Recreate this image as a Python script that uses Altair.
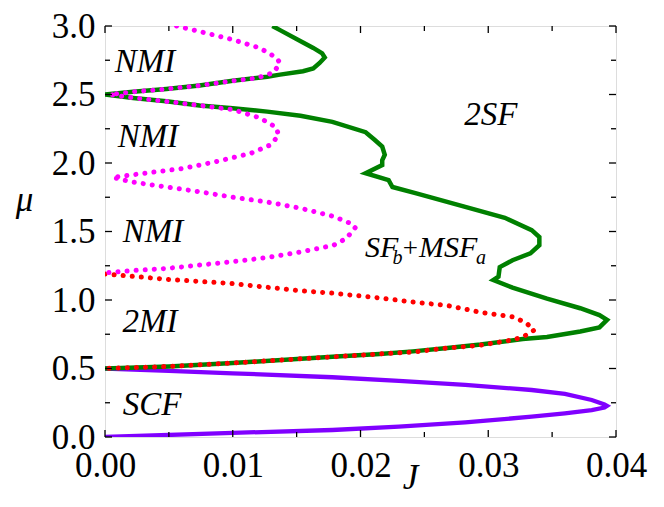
import altair as alt
import pandas as pd

# ---------------- data ----------------
purple_J = [0, 0.005, 0.01, 0.0178, 0.0230, 0.0282, 0.0334, 0.0360, 0.0381, 0.0391, 0.0393,
            0.0391, 0.0381, 0.0360, 0.0334, 0.0282, 0.0230, 0.0178, 0.01, 0.005, 0]
purple_mu = [0, 0.015, 0.03, 0.051, 0.075, 0.107, 0.148, 0.173, 0.197, 0.215, 0.227,
             0.238, 0.27, 0.314, 0.343, 0.38, 0.409, 0.436, 0.465, 0.483, 0.5]

red_J = [0, 0.005, 0.01, 0.015, 0.0178, 0.0215, 0.0241, 0.0268, 0.0294, 0.032, 0.033,
         0.0336, 0.0327, 0.032, 0.0294, 0.0268, 0.0241, 0.0215, 0.0178, 0.01, 0.005, 0]
red_mu = [1.19, 1.15, 1.12, 1.07, 1.05, 1.015, 0.985, 0.96, 0.91, 0.876, 0.83,
          0.78, 0.73, 0.71, 0.67, 0.65, 0.62, 0.606, 0.585, 0.54, 0.515, 0.5]

green_J = [0.0131, 0.0137, 0.0155, 0.0163, 0.0170, 0.0172, 0.0168, 0.0163, 0.0155, 0.0137,
           0.0127, 0.010, 0.0074, 0.0048, 0.0022, 0, 0.0022, 0.0048, 0.0074, 0.010,
           0.0127, 0.0153, 0.0178, 0.0204, 0.0211, 0.0217, 0.0219, 0.0217, 0.0217,
           0.0204, 0.0222, 0.0225, 0.0243, 0.0282, 0.0313, 0.0334, 0.0340, 0.0340, 0.0333,
           0.0319, 0.0309, 0.0308, 0.0304, 0.0319, 0.0346, 0.0372, 0.0387, 0.0393, 0.0387,
           0.0372, 0.0346, 0.0327, 0.0294, 0.0268, 0.0241, 0.0215, 0.0178, 0.01, 0.005, 0]
green_mu = [3.0, 2.97, 2.88, 2.84, 2.80, 2.77, 2.73, 2.69, 2.67, 2.645,
            2.63, 2.60, 2.565, 2.54, 2.52, 2.50, 2.475, 2.45, 2.42, 2.40,
            2.375, 2.345, 2.30, 2.225, 2.17, 2.12, 2.06, 2.02, 1.985,
            1.925, 1.875, 1.825, 1.78, 1.68, 1.60, 1.51, 1.46, 1.40, 1.34,
            1.29, 1.24, 1.17, 1.146, 1.09, 1.01, 0.94, 0.89, 0.855, 0.80,
            0.77, 0.73, 0.715, 0.675, 0.65, 0.625, 0.606, 0.585, 0.54, 0.515, 0.5]

magenta_J = [0.0056, 0.0074, 0.010, 0.0121, 0.0134, 0.0137, 0.0132, 0.0119, 0.010, 0.0074,
             0.0048, 0.0022, 0.0004, 0.0022, 0.0048, 0.0074, 0.010, 0.0121, 0.0134, 0.0136,
             0.0129, 0.0114, 0.0087, 0.0061, 0.0035, 0.0006, 0.0022, 0.0048, 0.0074, 0.010,
             0.0127, 0.0153, 0.0179, 0.0192, 0.0196, 0.0189, 0.0179, 0.0153, 0.0127, 0.010,
             0.0074, 0.0048, 0.0022, 0.0002]
magenta_mu = [3.0, 2.96, 2.90, 2.84, 2.77, 2.73, 2.66, 2.62, 2.60, 2.565,
              2.54, 2.52, 2.50, 2.475, 2.45, 2.42, 2.39, 2.33, 2.26, 2.20,
              2.13, 2.07, 2.01, 1.96, 1.93, 1.895, 1.86, 1.825, 1.79, 1.75,
              1.715, 1.67, 1.61, 1.56, 1.53, 1.45, 1.40, 1.35, 1.31, 1.28,
              1.255, 1.23, 1.215, 1.20]

x_major = [0, 0.01, 0.02, 0.03, 0.04]
x_minor = [0.005, 0.015, 0.025, 0.035]
y_major = [0, 0.5, 1.0, 1.5, 2.0, 2.5, 3.0]
y_minor = [0.25, 0.75, 1.25, 1.75, 2.25, 2.75]

# region labels (centered)
region_text = ["NMI", "NMI", "NMI", "2MI", "SCF", "2SF"]
region_J = [0.00313, 0.00337, 0.00376, 0.00352, 0.00368, 0.0302]
region_mu = [2.737, 2.19, 1.496, 0.84, 0.234, 2.354]

# composite label SF_b + MSF_a (italic pieces, left aligned)
comp_text = ["SF", "b", "MSF", "a"]
comp_J = [0.02035, 0.02250, 0.02458, 0.02905]
comp_mu = [1.314, 1.263, 1.314, 1.263]
comp_size = [30, 20, 30, 20]
# upright plus sign of the composite label
plus_text = ["+"]
plus_J = [0.02390]
plus_mu = [1.314]

W, H = 511, 411
FONT = "Liberation Serif"

def frame(J, mu):
    return pd.DataFrame({"J": J, "mu": mu, "idx": list(range(len(J)))})

xs = alt.Scale(domain=[0, 0.04], nice=False, zero=False)
ys = alt.Scale(domain=[0, 3.0], nice=False, zero=False)

xaxis = alt.Axis(values=x_major, format=".2f", ticks=False, domain=False, grid=False,
                 labelFont=FONT, labelFontSize=35, labelColor="black", labelPadding=11,
                 labelFlush=False, labelOverlap=False,
                 title="J", titleFont=FONT, titleFontStyle="italic", titleFontWeight="normal",
                 titleFontSize=35, titleColor="black", titleX=305, titleY=51,
                 titleBaseline="alphabetic", titleAlign="center")
yaxis = alt.Axis(values=y_major, format=".1f", ticks=False, domain=False, grid=False,
                 labelFont=FONT, labelFontSize=35, labelColor="black", labelPadding=10,
                 labelFlush=False, labelOverlap=False,
                 title="μ", titleFont=FONT, titleFontStyle="italic", titleFontWeight="normal",
                 titleFontSize=35, titleColor="black", titleAngle=0, titleX=-81, titleY=184,
                 titleBaseline="alphabetic", titleAlign="center")

def curve(df, color, dotted=False, width=4.5):
    props = dict(color=color, strokeWidth=width, clip=True)
    if dotted:
        props.update(strokeDash=[0.1, 9], strokeCap="round", strokeWidth=5)
    return alt.Chart(df).mark_line(**props).encode(
        x=alt.X("J:Q", scale=xs, axis=xaxis),
        y=alt.Y("mu:Q", scale=ys, axis=yaxis),
        order="idx:Q",
    )

purple = curve(frame(purple_J, purple_mu), "#8000ff", width=4.3)
green = curve(frame(green_J, green_mu), "#008000")
red = curve(frame(red_J, red_mu), "#ff0000", dotted=True)
magenta = curve(frame(magenta_J, magenta_mu), "#ff00ff", dotted=True)

# inward ticks on all four sides
def ticks_x(vals, L, top):
    df = pd.DataFrame({"v": vals})
    y0 = 0 if top else H
    y1 = L if top else H - L
    return alt.Chart(df).mark_rule(color="black", strokeWidth=1.3).encode(
        x=alt.X("v:Q", scale=xs), y=alt.value(y0), y2=alt.value(y1))

def ticks_y(vals, L, right):
    df = pd.DataFrame({"v": vals})
    x0 = W if right else 0
    x1 = W - L if right else L
    return alt.Chart(df).mark_rule(color="black", strokeWidth=1.3).encode(
        y=alt.Y("v:Q", scale=ys), x=alt.value(x0), x2=alt.value(x1))

tick_layers = []
for top in (False, True):
    tick_layers.append(ticks_x(x_major, 7, top))
    tick_layers.append(ticks_x(x_minor, 5, top))
for right in (False, True):
    tick_layers.append(ticks_y(y_major, 7, right))
    tick_layers.append(ticks_y(y_minor, 5, right))

region_df = pd.DataFrame({"t": region_text, "J": region_J, "mu": region_mu})
regions = alt.Chart(region_df).mark_text(
    font=FONT, fontStyle="italic", fontSize=33, color="black", align="center", baseline="middle"
).encode(x=alt.X("J:Q", scale=xs), y=alt.Y("mu:Q", scale=ys), text="t:N")

comp_df = pd.DataFrame({"t": comp_text, "J": comp_J, "mu": comp_mu, "s": comp_size})
comp = alt.Chart(comp_df).mark_text(
    font=FONT, fontStyle="italic", color="black", align="left", baseline="alphabetic"
).encode(x=alt.X("J:Q", scale=xs), y=alt.Y("mu:Q", scale=ys), text="t:N",
         size=alt.Size("s:Q", scale=None, legend=None))

plus_df = pd.DataFrame({"t": plus_text, "J": plus_J, "mu": plus_mu})
plus = alt.Chart(plus_df).mark_text(
    font=FONT, fontSize=27, color="black", align="center", baseline="alphabetic"
).encode(x=alt.X("J:Q", scale=xs), y=alt.Y("mu:Q", scale=ys), text="t:N")

chart = alt.layer(purple, green, red, magenta, *tick_layers, regions, comp, plus).properties(
    width=W, height=H,
    autosize=alt.AutoSizeParams(type="none"),
    padding={"left": 97, "top": 18, "right": 40, "bottom": 62},
).configure_view(stroke="black", strokeWidth=1.5).configure(background="white")

chart.save("out.html", embed_options={"renderer": "svg", "actions": False})
